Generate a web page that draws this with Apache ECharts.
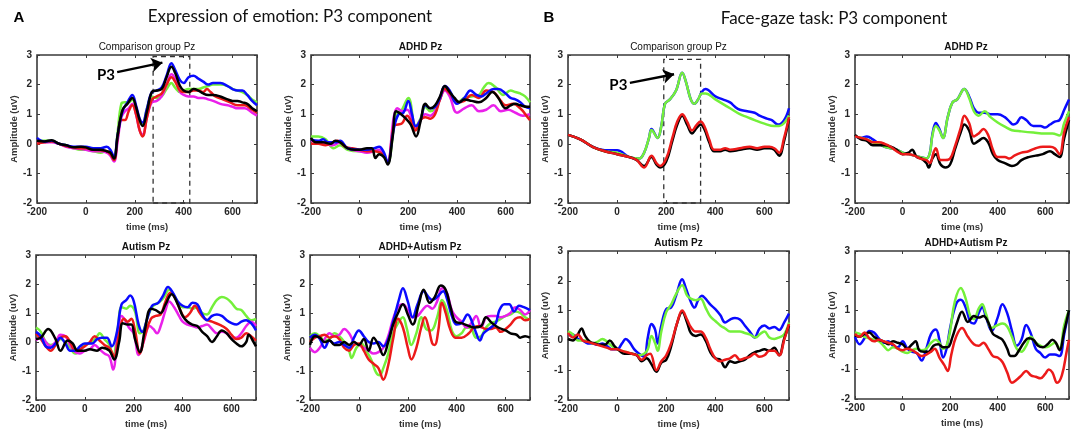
<!DOCTYPE html>
<html>
<head>
<meta charset="utf-8">
<script src="https://cdn.jsdelivr.net/npm/echarts@6/dist/echarts.min.js"></script>
<style>
  html, body { margin: 0; padding: 0; background: #fff; }
  #echarts { width: 1072px; height: 430px; }
</style>
</head>
<body>
<div id="echarts"></div>
<script>
// tick labels
var xTicks = [-200, 0, 200, 400, 600];
var yTicks = [-2, -1, 0, 1, 2, 3];

// ---- A: expression of emotion, comparison group
var aCompGreen = [[-200,0.1],[-170,0.1],[-140,0.1],[-110,0],[-80,-0.05],[-50,-0.15],[-20,-0.2],[0,-0.2],[30,-0.25],[60,-0.3],[85,-0.25],[100,-0.35],[115,-0.5],[130,0.4],[145,1.35],[160,1.4],[175,1.4],[190,1.5],[205,1.2],[220,0.75],[232,0.65],[250,1.2],[270,1.6],[290,1.55],[310,1.6],[330,1.85],[350,2.05],[365,1.9],[385,1.75],[400,1.8],[420,1.85],[440,1.85],[460,1.85],[480,1.9],[500,1.95],[520,2],[550,2],[580,1.95],[600,1.85],[620,1.8],[640,1.75],[660,1.65],[680,1.5],[700,1.4]];
var aCompMagenta = [[-200,0.05],[-170,0.05],[-140,0.05],[-110,0],[-80,-0.1],[-50,-0.15],[-20,-0.18],[0,-0.2],[30,-0.25],[60,-0.25],[85,-0.3],[100,-0.4],[115,-0.6],[130,0.1],[145,0.9],[160,1.1],[175,1.2],[190,1.35],[205,1],[220,0.45],[232,0.3],[250,0.9],[270,1.4],[290,1.45],[310,1.6],[330,2],[350,2.35],[365,2.2],[385,1.75],[400,1.65],[420,1.6],[440,1.6],[460,1.55],[480,1.55],[500,1.5],[520,1.45],[550,1.35],[580,1.3],[600,1.25],[620,1.2],[650,1.2],[680,1.05],[700,0.95]];
var aCompRed = [[-200,0],[-170,0.05],[-140,0.08],[-110,0],[-80,-0.08],[-50,-0.12],[-20,-0.15],[0,-0.15],[30,-0.2],[60,-0.22],[85,-0.25],[100,-0.35],[115,-0.55],[130,0.2],[145,0.8],[160,0.8],[175,1.1],[190,1.3],[205,1],[220,0.45],[232,0.25],[250,0.9],[270,1.5],[290,1.6],[310,1.7],[330,2],[350,2.25],[365,2.1],[385,1.8],[400,1.75],[420,1.75],[440,1.8],[460,1.8],[480,1.75],[495,1.85],[510,1.75],[530,1.6],[560,1.5],[590,1.4],[620,1.3],[650,1.3],[680,1.15],[700,1.05]];
var aCompBlue = [[-200,0.2],[-170,0.08],[-140,0.1],[-110,0],[-80,-0.05],[-50,-0.1],[-20,-0.1],[0,-0.1],[30,-0.15],[60,-0.15],[85,-0.1],[100,-0.2],[115,-0.45],[130,0.3],[150,1.1],[170,1.4],[190,1.65],[205,1.3],[220,0.85],[232,0.72],[250,1.2],[270,1.75],[290,1.8],[310,1.9],[330,2.3],[350,2.72],[365,2.5],[385,2.15],[400,2.05],[420,2.25],[440,2.3],[460,2.2],[480,2.1],[500,2],[520,2.05],[550,2.05],[580,1.95],[600,1.85],[620,1.8],[640,1.8],[660,1.65],[680,1.45],[700,1.3]];
var aCompBlack = [[-200,0.1],[-170,0.08],[-140,0.12],[-110,0],[-80,-0.05],[-50,-0.12],[-20,-0.1],[0,-0.12],[30,-0.2],[60,-0.2],[85,-0.25],[100,-0.3],[115,-0.5],[130,0.3],[150,1.15],[170,1.35],[190,1.55],[205,1.25],[220,0.8],[232,0.6],[250,1.1],[270,1.75],[290,1.8],[310,1.85],[330,2.25],[350,2.6],[365,2.4],[385,1.95],[400,1.8],[420,1.75],[440,1.85],[460,1.8],[480,1.7],[500,1.65],[520,1.65],[550,1.6],[580,1.5],[600,1.45],[620,1.45],[640,1.4],[660,1.35],[680,1.2],[700,1.1]];

// ---- A: ADHD
var aAdhdGreen = [[-200,0.25],[-170,0.25],[-140,0.15],[-107,-0.15],[-80,-0.05],[-50,-0.2],[0,-0.25],[50,-0.2],[80,-0.3],[100,-0.4],[115,-0.65],[150,1],[170,1.1],[200,1.55],[230,0.6],[250,0.85],[270,1.25],[290,1.1],[310,1.2],[330,1.5],[350,1.9],[375,1.7],[400,1.4],[430,1.55],[460,1.6],[490,1.65],[510,1.9],[530,2.05],[560,1.9],[590,1.65],[620,1.8],[640,1.75],[660,1.7],[680,1.6],[700,1.4]];
var aAdhdMagenta = [[-200,0.1],[-170,0.05],[-140,0],[-110,-0.05],[-80,0.05],[-50,-0.15],[0,-0.25],[30,-0.3],[60,-0.25],[80,-0.2],[100,-0.4],[115,-0.6],[140,0.9],[155,1.2],[175,1.1],[195,1.15],[215,0.85],[230,0.55],[250,0.8],[270,1],[290,0.95],[310,1.1],[330,1.5],[350,1.8],[370,1.6],[400,1.05],[430,1.2],[460,1.3],[490,1.1],[520,1.15],[550,1.3],[580,1.1],[610,1.15],[640,1.05],[670,0.95],[700,1]];
var aAdhdRed = [[-200,0],[-170,0],[-140,-0.05],[-110,0.05],[-90,0.1],[-60,-0.1],[-30,-0.15],[0,-0.2],[30,-0.25],[60,-0.25],[85,-0.3],[100,-0.4],[115,-0.65],[140,0.6],[155,0.65],[175,0.7],[195,0.95],[215,0.7],[230,0.45],[250,0.8],[270,0.9],[290,0.85],[310,1],[330,1.5],[350,1.85],[370,1.7],[400,1.4],[430,1.45],[460,1.65],[490,1.55],[520,1.8],[550,1.75],[580,1.45],[600,1.3],[630,1.35],[660,1.2],[690,0.9],[700,0.8]];
var aAdhdBlue = [[-200,0.15],[-170,0.1],[-150,0.15],[-130,0.05],[-100,0.05],[-80,0.1],[-50,-0.15],[0,-0.2],[30,-0.2],[60,-0.15],[80,-0.1],[100,-0.3],[115,-0.65],[140,0.5],[160,1],[180,1.05],[200,1.45],[215,1],[230,0.6],[250,0.8],[270,1.3],[290,1.2],[310,1.25],[330,1.55],[350,1.95],[370,1.8],[400,1.35],[430,1.55],[455,1.8],[480,1.65],[500,1.6],[520,1.7],[550,1.85],[570,1.85],[600,1.7],[620,1.55],[640,1.5],[660,1.4],[680,1.25],[700,1.2]];
var aAdhdBlack = [[-200,0.2],[-180,0.05],[-150,0.05],[-120,0],[-100,0.1],[-80,0.05],[-50,-0.15],[-20,-0.2],[0,-0.2],[30,-0.15],[50,-0.15],[65,-0.48],[80,-0.35],[100,-0.45],[115,-0.7],[135,0.2],[150,1.1],[170,1],[190,0.85],[210,0.65],[232,0.25],[250,0.75],[270,1.35],[290,1.2],[310,1.3],[330,1.6],[350,1.95],[370,1.75],[390,1.55],[410,1.4],[430,1.5],[460,1.45],[490,1.4],[520,1.55],[545,1.75],[570,1.55],[600,1.2],[620,1.3],[640,1.35],[660,1.3],[690,1.25],[700,1.25]];

// ---- A: Autism
var aAutGreen = [[-200,0.5],[-180,0.35],[-160,0],[-140,-0.1],[-120,-0.05],[-100,0.1],[-80,0],[-60,-0.2],[-40,-0.4],[-20,-0.3],[0,-0.1],[30,0],[50,0.2],[60,0.3],[80,0.1],[100,-0.1],[115,-0.5],[135,0.5],[150,1.2],[170,1.15],[185,1.25],[205,1.05],[225,0.3],[240,0.4],[260,0.95],[280,1.25],[300,1.35],[320,1.5],[345,1.8],[365,1.6],[385,1.3],[400,1.2],[420,1.2],[440,1.15],[460,1.2],[480,1],[500,0.95],[520,1.2],[540,1.45],[560,1.55],[580,1.5],[600,1.35],[620,1.15],[640,1.1],[660,0.9],[680,0.75],[700,0.8]];
var aAutMagenta = [[-200,0.05],[-180,0.2],[-160,0],[-140,-0.15],[-120,0],[-100,0.25],[-80,0.2],[-60,-0.1],[-40,-0.35],[-20,-0.4],[0,-0.3],[20,-0.25],[40,-0.1],[60,-0.25],[80,-0.4],[100,-0.5],[115,-0.95],[135,0.3],[150,0.9],[165,0.75],[180,0.5],[200,0.3],[220,-0.45],[240,0],[265,0.55],[280,0.45],[295,0.3],[310,0.55],[330,1.1],[345,1.4],[365,1.2],[385,0.9],[400,0.7],[420,0.6],[440,0.55],[460,0.5],[480,0.55],[500,0.6],[520,0.45],[540,0.3],[560,0.35],[580,0.3],[600,0.15],[620,0.15],[640,0.3],[660,0.55],[680,0.7],[700,0.55]];
var aAutRed = [[-200,0.3],[-180,0.1],[-160,-0.15],[-140,-0.3],[-120,-0.1],[-100,0.15],[-80,0.2],[-60,0],[-40,-0.3],[-20,-0.25],[0,-0.15],[20,0],[40,0.2],[60,0.05],[80,-0.1],[100,-0.2],[120,-0.5],[140,0.3],[160,0.8],[175,0.7],[190,0.8],[205,0.4],[225,-0.4],[245,0.2],[270,0.8],[290,0.9],[310,0.95],[330,1.4],[350,1.7],[370,1.5],[390,1.1],[410,0.85],[430,1],[450,1.25],[470,1],[490,0.8],[520,0.7],[550,0.6],[580,0.45],[600,0.25],[620,0.1],[640,0.15],[660,0.3],[680,0.2],[700,0.05]];
var aAutBlue = [[-200,0.35],[-180,0.2],[-160,-0.15],[-140,-0.2],[-120,-0.05],[-100,0.15],[-80,-0.05],[-60,-0.3],[-40,-0.3],[-20,-0.15],[0,-0.05],[30,-0.05],[50,0.1],[70,0.15],[90,0.15],[110,-0.15],[130,0.3],[150,1.3],[170,1.45],[185,1.6],[200,1.4],[220,0.6],[235,0.35],[255,0.8],[275,1.25],[300,1.35],[320,1.6],[340,1.9],[360,1.7],[380,1.4],[400,1.25],[420,1.2],[440,1.35],[460,1.3],[480,0.95],[500,0.75],[520,0.9],[540,0.95],[560,0.9],[580,0.75],[600,0.65],[620,0.6],[640,0.7],[660,0.75],[680,0.65],[700,0.4]];
var aAutBlack = [[-200,0.1],[-180,0.15],[-150,0.45],[-120,0.1],[-100,-0.3],[-70,0.05],[-50,-0.05],[-30,-0.3],[0,-0.3],[20,-0.25],[50,-0.3],[70,-0.2],[100,-0.3],[120,-0.6],[140,0],[155,0.65],[175,0.6],[190,0.6],[205,0.1],[225,-0.35],[245,0.4],[270,1.15],[290,1.1],[310,1],[330,1.3],[355,1.65],[380,1.3],[400,0.9],[420,0.7],[440,0.6],[460,0.55],[480,0.35],[500,0.2],[520,0],[540,0.2],[560,0.4],[580,0.3],[600,0.1],[620,-0.05],[640,-0.15],[660,0],[670,0.25],[690,0],[700,-0.15]];

// ---- A: ADHD+Autism
var aBothGreen = [[-200,0.2],[-180,0.3],[-160,0.2],[-140,0.05],[-120,0.1],[-100,0.3],[-80,0.2],[-60,0],[-40,-0.3],[-30,-0.55],[-10,-0.2],[10,-0.05],[30,-0.3],[50,-0.6],[70,-1.05],[85,-1.15],[100,-0.9],[120,-0.4],[140,0.3],[160,0.65],[180,0.85],[195,0.5],[215,-0.1],[235,0.3],[255,0.85],[275,0.45],[295,0.4],[320,0.85],[340,1.45],[360,1.1],[380,0.4],[400,0.2],[420,0.3],[440,0.5],[460,0.45],[480,0.15],[500,0.2],[520,0.5],[540,0.65],[560,0.7],[580,0.8],[600,0.9],[620,0.95],[640,1.05],[660,1],[680,0.85],[700,0.75]];
var aBothMagenta = [[-200,-0.2],[-180,-0.35],[-160,-0.2],[-140,0.1],[-120,0.3],[-100,0.2],[-80,0.25],[-60,0.45],[-40,0.3],[-20,0],[0,-0.1],[20,-0.2],[40,-0.3],[60,-0.4],[80,-0.35],[100,-0.2],[120,0.2],[140,0.8],[160,1.2],[180,1.3],[200,1.1],[220,0.85],[240,0.9],[260,1.1],[280,1.25],[300,1.15],[320,1.4],[340,1.85],[360,1.7],[380,1.1],[400,0.85],[420,0.7],[440,0.5],[460,0.65],[480,0.9],[500,0.5],[520,0.85],[540,0.9],[560,0.9],[580,0.85],[600,0.9],[620,1],[640,1.2],[660,1.1],[680,0.95],[700,1.1]];
var aBothRed = [[-200,0],[-180,0.15],[-160,0.2],[-140,0.25],[-120,0.15],[-100,0.2],[-80,0.1],[-60,-0.2],[-40,-0.3],[-20,-0.1],[0,-0.05],[20,-0.3],[40,-0.6],[60,-0.75],[80,-0.9],[100,-1.3],[120,-0.8],[140,0.1],[160,0.8],[180,0.5],[200,-0.2],[215,-0.6],[235,-0.2],[255,0.5],[270,0.85],[285,0.5],[300,-0.05],[310,-0.1],[325,0.4],[340,1.35],[355,1],[375,0.4],[395,0.15],[420,0.15],[450,0.3],[470,0.5],[490,0.55],[520,0.45],[540,0.45],[560,0.5],[580,0.35],[600,0.45],[620,0.6],[640,0.8],[660,0.85],[680,0.75],[700,0.8]];
var aBothBlue = [[-200,0.15],[-180,0.25],[-160,0.1],[-140,-0.2],[-120,0.05],[-100,-0.05],[-80,0],[-60,-0.1],[-40,-0.2],[-20,0.15],[0,0.4],[20,0.2],[40,0],[60,-0.05],[80,0],[100,-0.15],[120,0.1],[140,0.7],[165,1.5],[180,1.85],[200,1.4],[220,0.85],[240,1.3],[265,1.75],[285,1.55],[300,1.45],[320,1.55],[345,1.75],[360,1.5],[380,0.9],[400,0.6],[420,0.65],[445,0.95],[465,0.65],[480,0.3],[495,0.05],[510,0.3],[540,0.5],[560,0.65],[575,1.1],[595,1.3],[615,1.3],[635,1.05],[655,1.25],[675,1.2],[700,1.1]];
var aBothBlack = [[-200,-0.1],[-180,0.2],[-160,0.15],[-140,0],[-120,0.05],[-100,-0.1],[-80,-0.1],[-60,0],[-40,-0.1],[-20,0],[0,-0.1],[20,0.1],[40,-0.3],[60,0.15],[80,-0.1],[100,-0.45],[120,0],[140,0.6],[160,1],[180,1.3],[200,0.95],[220,0.6],[245,1.3],[265,1.8],[290,1.35],[310,1.55],[335,1.95],[355,1.8],[375,1.2],[395,0.7],[420,0.65],[450,0.55],[475,0.5],[500,0.55],[520,0.85],[545,0.65],[570,0.5],[600,0.4],[620,0.3],[645,0.25],[660,0.15],[680,0.2],[700,0.15]];

// ---- B: face-gaze, comparison group
var bCompBlue = [[-200,0.3],[-150,0.15],[-100,-0.1],[-50,-0.22],[0,-0.22],[50,-0.45],[90,-0.5],[110,-0.3],[130,0.2],[140,0.5],[165,0.2],[180,0.6],[195,1.35],[215,1.5],[240,1.8],[265,2.4],[280,2.1],[300,1.5],[315,1.35],[330,1.5],[345,1.75],[360,1.85],[400,1.6],[430,1.5],[460,1.4],[480,1.25],[500,1.15],[530,1.1],[560,1.05],[580,0.95],[610,0.85],[630,0.8],[655,0.65],[680,0.8],[700,1.2]];
var bCompGreen = [[-200,0.3],[-150,0.15],[-100,-0.1],[-50,-0.25],[0,-0.3],[50,-0.45],[90,-0.5],[110,-0.3],[130,0.2],[140,0.47],[165,0.2],[180,0.6],[195,1.35],[215,1.5],[240,1.8],[265,2.4],[280,2.1],[300,1.5],[315,1.35],[330,1.5],[345,1.7],[360,1.7],[400,1.5],[430,1.35],[460,1.2],[500,1],[530,0.9],[560,0.8],[600,0.68],[640,0.6],[660,0.6],[680,0.7],[700,0.95]];
var bCompBlack = [[-200,0.3],[-150,0.15],[-100,-0.1],[-50,-0.25],[0,-0.35],[50,-0.45],[80,-0.55],[110,-0.75],[140,-0.45],[160,-0.7],[175,-0.8],[200,-0.6],[225,0.1],[245,0.65],[265,0.95],[285,0.65],[305,0.35],[325,0.55],[340,0.65],[355,0.5],[375,0.05],[395,-0.25],[420,-0.25],[440,-0.2],[460,-0.25],[500,-0.2],[540,-0.15],[570,-0.2],[600,-0.15],[620,-0.15],[640,-0.2],[660,-0.4],[680,0.1],[700,0.85]];
var bCompRed = [[-200,0.3],[-150,0.15],[-100,-0.1],[-50,-0.25],[0,-0.35],[50,-0.45],[80,-0.55],[110,-0.8],[140,-0.4],[160,-0.65],[175,-0.75],[200,-0.5],[225,0.2],[245,0.75],[265,1],[285,0.75],[305,0.45],[325,0.65],[340,0.75],[355,0.6],[375,0.15],[395,-0.2],[420,-0.2],[440,-0.15],[460,-0.2],[500,-0.15],[540,-0.1],[570,-0.15],[600,-0.1],[620,-0.1],[640,-0.15],[660,-0.3],[680,0.2],[700,0.9]];

// ---- B: ADHD
var bAdhdBlue = [[-200,0.25],[-175,0.2],[-150,0.25],[-125,0.15],[-100,0],[-75,-0.1],[-50,-0.15],[-25,-0.2],[0,-0.3],[25,-0.35],[50,-0.4],[75,-0.45],[100,-0.5],[115,-0.3],[125,0.3],[140,0.7],[155,0.5],[170,0.2],[190,0.9],[210,1.4],[230,1.5],[260,1.85],[280,1.6],[300,1.2],[320,1.05],[345,1.05],[370,1],[400,1],[430,0.9],[450,0.75],[465,0.65],[480,0.7],[500,0.9],[520,0.8],[550,0.6],[580,0.6],[600,0.55],[620,0.65],[640,0.75],[660,0.8],[680,1.15],[700,1.5]];
var bAdhdGreen = [[-200,0.25],[-175,0.2],[-150,0.15],[-125,0.05],[-100,0],[-75,-0.1],[-50,-0.15],[-25,-0.2],[0,-0.3],[25,-0.35],[50,-0.4],[75,-0.45],[100,-0.5],[115,-0.3],[125,0.25],[140,0.6],[155,0.45],[170,0.2],[190,0.9],[210,1.4],[230,1.5],[260,1.85],[280,1.55],[300,1.1],[320,0.95],[345,1.1],[370,0.9],[400,0.72],[430,0.58],[460,0.46],[500,0.42],[550,0.38],[600,0.35],[630,0.35],[660,0.28],[680,0.7],[700,1.1]];
var bAdhdBlack = [[-200,0.3],[-175,0.15],[-150,0.1],[-125,-0.05],[-100,-0.05],[-75,-0.05],[-50,-0.1],[-25,-0.2],[0,-0.35],[25,-0.3],[40,-0.2],[60,-0.45],[80,-0.5],[100,-0.65],[110,-0.8],[125,-0.5],[140,-0.35],[160,-0.7],[180,-0.8],[200,-0.7],[220,-0.2],[245,0.4],[260,0.65],[280,0.45],[300,0],[320,0.1],[340,0.2],[360,0.05],[380,-0.35],[400,-0.55],[430,-0.65],[460,-0.75],[480,-0.7],[500,-0.55],[530,-0.45],[560,-0.4],[590,-0.35],[620,-0.25],[640,-0.35],[660,-0.45],[680,0.2],[700,0.8]];
var bAdhdRed = [[-200,0.25],[-175,0.2],[-150,0.15],[-125,0.05],[-100,0.05],[-75,0],[-50,-0.1],[-25,-0.25],[0,-0.35],[25,-0.35],[50,-0.4],[75,-0.5],[100,-0.55],[115,-0.65],[130,-0.3],[140,-0.15],[160,-0.55],[180,-0.55],[200,-0.5],[220,-0.1],[245,0.55],[260,0.95],[280,0.7],[300,0.25],[320,0.35],[340,0.5],[360,0.3],[380,-0.2],[400,-0.45],[430,-0.45],[450,-0.5],[470,-0.4],[500,-0.3],[530,-0.25],[560,-0.15],[590,-0.1],[620,-0.1],[640,-0.15],[660,-0.35],[680,0.4],[700,0.9]];

// ---- B: Autism
var bAutBlue = [[-200,0.2],[-180,0.2],[-160,0.05],[-140,0],[-120,-0.1],[-100,-0.1],[-80,-0.15],[-60,-0.1],[-40,-0.2],[-20,-0.3],[0,-0.3],[20,-0.1],[35,0.05],[50,-0.05],[70,-0.3],[90,-0.45],[110,-0.55],[125,0.1],[140,0.55],[155,0.35],[165,-0.1],[180,0.5],[200,1.05],[220,1.1],[240,1.5],[265,2.05],[280,1.75],[300,1.3],[315,1.1],[330,1.35],[345,1.5],[360,1.4],[380,1.2],[400,1.05],[420,0.85],[440,0.6],[460,0.7],[480,0.75],[500,0.7],[520,0.5],[540,0.3],[560,0.1],[580,0.4],[600,0.5],[620,0.4],[640,0.45],[660,0.35],[680,0.6],[700,0.9]];
var bAutGreen = [[-200,0.3],[-180,0.2],[-160,0],[-140,0],[-120,0],[-100,-0.1],[-80,-0.05],[-60,0.05],[-40,-0.05],[-20,-0.2],[0,-0.3],[20,-0.35],[40,-0.4],[60,-0.45],[90,-0.5],[110,-0.45],[125,-0.3],[140,0.15],[155,-0.1],[165,-0.35],[180,0.3],[200,0.95],[220,1.2],[240,1.55],[265,1.85],[285,1.5],[300,1.4],[320,1.35],[340,1.4],[360,1.1],[380,0.8],[400,0.65],[420,0.5],[440,0.4],[460,0.3],[480,0.3],[500,0.3],[520,0.25],[540,0.2],[565,0.1],[580,0.2],[600,0.3],[620,0.1],[640,0.05],[660,0.1],[680,0.2],[700,0.6]];
var bAutBlack = [[-200,0.05],[-180,0],[-160,0.2],[-145,0.4],[-130,0.15],[-110,-0.05],[-90,-0.1],[-70,-0.15],[-50,-0.15],[-30,0],[-10,-0.2],[10,-0.35],[30,-0.45],[60,-0.45],[80,-0.5],[100,-0.7],[120,-0.6],[140,-0.8],[160,-1.05],[180,-0.75],[200,-0.65],[220,-0.2],[245,0.6],[265,0.95],[285,0.6],[300,0.25],[320,0.15],[340,0.2],[360,0],[380,-0.4],[400,-0.6],[420,-0.65],[440,-0.9],[460,-0.7],[480,-0.75],[500,-0.7],[520,-0.65],[540,-0.5],[560,-0.4],[580,-0.35],[600,-0.3],[620,-0.35],[640,-0.25],[660,-0.5],[680,0.05],[700,0.5]];
var bAutRed = [[-200,0.25],[-180,0.1],[-160,0.2],[-140,0],[-120,-0.05],[-100,-0.1],[-80,-0.15],[-60,-0.2],[-40,-0.25],[-20,-0.3],[0,-0.3],[20,-0.35],[40,-0.4],[60,-0.45],[80,-0.5],[100,-0.65],[120,-0.5],[135,-0.45],[160,-1],[180,-0.7],[200,-0.5],[220,-0.1],[245,0.6],[265,1],[285,0.7],[300,0.45],[320,0.3],[340,0.3],[360,0.1],[380,-0.3],[400,-0.6],[420,-0.7],[440,-0.65],[460,-0.6],[480,-0.5],[500,-0.65],[520,-0.6],[540,-0.55],[560,-0.45],[580,-0.55],[600,-0.5],[620,-0.35],[640,-0.35],[660,-0.5],[680,0],[700,0.55]];

// ---- B: ADHD+Autism
var bBothBlue = [[-200,0.1],[-180,-0.15],[-160,0.05],[-140,0.3],[-120,0.25],[-100,0.05],[-80,-0.1],[-60,-0.05],[-40,-0.2],[-20,-0.25],[0,-0.05],[20,-0.3],[40,-0.4],[60,-0.45],[80,-0.7],[100,-0.3],[120,0.2],[140,0.35],[155,0],[170,-0.6],[185,-0.3],[200,0.4],[225,1.2],[245,1.35],[265,1.1],[285,0.6],[300,0.55],[320,0.9],[335,1.1],[350,0.8],[375,0.3],[400,0.75],[420,1.2],[440,0.9],[460,0.3],[480,-0.2],[500,0],[520,0.5],[540,0.2],[560,-0.3],[580,-0.45],[600,-0.6],[620,-0.5],[640,-0.5],[660,-0.55],[680,0.2],[700,1]];
var bBothGreen = [[-200,0.25],[-180,0.2],[-160,0.1],[-140,0.05],[-120,0],[-100,-0.05],[-80,-0.2],[-60,-0.35],[-40,-0.25],[-20,-0.3],[0,-0.4],[20,-0.45],[40,-0.35],[60,-0.3],[80,-0.35],[100,-0.3],[120,-0.1],[140,0],[155,-0.1],[170,-0.3],[185,-0.2],[200,0.3],[220,1.3],[245,1.75],[265,1.4],[285,0.8],[300,0.7],[320,1.05],[335,1.2],[350,0.9],[375,0.4],[400,0.5],[420,0.55],[440,0.45],[460,0.1],[480,-0.3],[500,-0.4],[520,-0.2],[540,0.1],[560,-0.1],[580,-0.2],[600,-0.25],[620,-0.2],[640,-0.1],[660,-0.3],[680,0.5],[700,1]];
var bBothBlack = [[-200,0.15],[-180,0.1],[-160,0.2],[-140,0.25],[-120,0.1],[-100,0],[-80,-0.05],[-60,-0.15],[-40,-0.05],[-20,-0.1],[0,-0.15],[20,-0.3],[40,-0.15],[55,-0.05],[70,-0.35],[90,-0.4],[110,-0.4],[130,-0.2],[150,-0.15],[170,-0.25],[190,-0.25],[210,0.1],[230,0.6],[250,0.95],[275,0.6],[300,0.8],[320,0.75],[340,0.8],[360,0.6],[380,0.2],[400,0.1],[420,0],[440,-0.3],[455,-0.55],[470,-0.55],[490,-0.35],[510,-0.1],[530,0.05],[550,0],[570,-0.2],[590,-0.25],[610,-0.15],[630,0],[645,-0.1],[660,-0.35],[680,0.3],[700,1]];
var bBothRed = [[-200,0.2],[-180,0.1],[-160,0.25],[-140,0.05],[-120,-0.05],[-100,0],[-80,-0.05],[-60,-0.1],[-40,-0.15],[-20,-0.3],[0,-0.35],[20,-0.3],[40,-0.35],[60,-0.45],[80,-0.55],[100,-0.5],[120,-0.4],[135,-0.3],[155,-0.6],[175,-0.85],[190,-1.05],[205,-0.5],[225,0.1],[250,0.4],[275,0.1],[300,-0.15],[320,-0.2],[340,-0.1],[360,-0.3],[380,-0.55],[400,-0.6],[420,-0.75],[440,-1.1],[460,-1.45],[480,-1.35],[500,-1.2],[520,-1.05],[540,-1.2],[560,-1.25],[580,-1.3],[600,-1.15],[615,-1],[630,-1.1],[650,-1.45],[670,-1.2],[690,-0.4],[700,0]];

var colors = { blue: '#0a0aff', green: '#74f03a', red: '#ec1a1a', magenta: '#ea20ea', black: '#000000' };

var panels = [
    { title: 'Comparison group Pz', bold: false, box: [37, 55, 220, 148],
      lines: [['green', aCompGreen], ['magenta', aCompMagenta], ['red', aCompRed], ['blue', aCompBlue], ['black', aCompBlack]] },
    { title: 'ADHD Pz', bold: true, box: [311, 55, 219, 148],
      lines: [['green', aAdhdGreen], ['magenta', aAdhdMagenta], ['red', aAdhdRed], ['blue', aAdhdBlue], ['black', aAdhdBlack]] },
    { title: 'Autism Pz', bold: true, box: [36, 255, 220, 148],
      lines: [['green', aAutGreen], ['magenta', aAutMagenta], ['red', aAutRed], ['blue', aAutBlue], ['black', aAutBlack]] },
    { title: 'ADHD+Autism Pz', bold: true, box: [310, 255, 220, 148],
      lines: [['green', aBothGreen], ['magenta', aBothMagenta], ['red', aBothRed], ['blue', aBothBlue], ['black', aBothBlack]] },
    { title: 'Comparison group Pz', bold: false, box: [568, 55, 221, 148],
      lines: [['blue', bCompBlue], ['green', bCompGreen], ['black', bCompBlack], ['red', bCompRed]] },
    { title: 'ADHD Pz', bold: true, box: [855, 55, 222, 148],
      lines: [['blue', bAdhdBlue], ['green', bAdhdGreen], ['black', bAdhdBlack], ['red', bAdhdRed]] },
    { title: 'Autism Pz', bold: true, box: [568, 251, 221, 149],
      lines: [['blue', bAutBlue], ['green', bAutGreen], ['black', bAutBlack], ['red', bAutRed]] },
    { title: 'ADHD+Autism Pz', bold: true, box: [855, 251, 222, 148],
      lines: [['blue', bBothBlue], ['green', bBothGreen], ['black', bBothBlack], ['red', bBothRed]] }
];

// P3 window + arrow annotations (data coords) for the two comparison panels
var p3Notes = {
    0: { win: [275, 425, 2.95], arrow: [[128, 2.42], [313, 2.74]], label: [82, 2.32] },
    4: { win: [190, 340, 2.85], arrow: [[52, 2.06], [232, 2.35]], label: [5, 1.99] }
};

window.onload = function () {
    var labelFont = 'Liberation Sans, Arial, sans-serif';
    var grids = [], xAxes = [], yAxes = [], series = [], graphics = [];

    panels.forEach(function (p, i) {
        grids.push({ left: p.box[0], top: p.box[1], width: p.box[2], height: p.box[3],
            show: true, borderColor: '#3a3a3a', borderWidth: 1.6, backgroundColor: '#fff' });

        var tick = { show: true, inside: true, length: 3, lineStyle: { color: '#3a3a3a', width: 1 } };
        var noLine = { show: false, onZero: false };
        xAxes.push({ gridIndex: i, type: 'value', position: 'bottom', min: -200, max: 700, interval: 200,
            axisLine: noLine, splitLine: { show: false }, axisTick: tick,
            axisLabel: { fontSize: 10, fontWeight: 'bold', color: '#262626', fontFamily: labelFont, margin: 4,
                formatter: function (v) { return xTicks.indexOf(v) >= 0 ? String(v) : ''; } },
            name: 'time (ms)', nameLocation: 'middle', nameGap: 19,
            nameTextStyle: { fontSize: 9.5, fontWeight: 'bold', color: '#333', fontFamily: labelFont } });
        xAxes.push({ gridIndex: i, type: 'value', position: 'top', min: -200, max: 700, interval: 200,
            axisLine: noLine, splitLine: { show: false }, axisTick: tick, axisLabel: { show: false } });
        yAxes.push({ gridIndex: i, type: 'value', position: 'left', min: -2, max: 3, interval: 1,
            axisLine: noLine, splitLine: { show: false }, axisTick: tick,
            axisLabel: { fontSize: 10, fontWeight: 'bold', color: '#262626', fontFamily: labelFont, margin: 5,
                formatter: function (v) { return yTicks.indexOf(v) >= 0 ? String(v) : ''; } },
            name: 'Amplitude (uV)', nameLocation: 'middle', nameGap: 18,
            nameTextStyle: { fontSize: 9.5, fontWeight: 'bold', color: '#333', fontFamily: labelFont } });
        yAxes.push({ gridIndex: i, type: 'value', position: 'right', min: -2, max: 3, interval: 1,
            axisLine: noLine, splitLine: { show: false }, axisTick: tick, axisLabel: { show: false } });

        p.lines.forEach(function (ln, k) {
            var s = {
                type: 'line', xAxisIndex: i * 2, yAxisIndex: i * 2, data: ln[1],
                smooth: 0.4, showSymbol: false, symbol: 'none',
                lineStyle: { color: colors[ln[0]], width: 2.5 },
                z: 2 + k
            };
            var note = p3Notes[i];
            if (note && k === 0) {
                s.markArea = { silent: true,
                    itemStyle: { color: 'rgba(0,0,0,0)', borderColor: '#333', borderWidth: 1.3, borderType: [5, 4] },
                    data: [[{ coord: [note.win[0], -2] }, { coord: [note.win[1], note.win[2]] }]] };
                s.markLine = { silent: true, symbol: ['none', 'arrow'], symbolSize: 11,
                    lineStyle: { color: '#000', width: 2.4, type: 'solid' }, label: { show: false },
                    data: [[{ coord: note.arrow[0] }, { coord: note.arrow[1] }]] };
                s.markPoint = { silent: true, symbol: 'circle', symbolSize: 1,
                    itemStyle: { color: 'rgba(0,0,0,0)' },
                    label: { show: true, position: 'inside', formatter: 'P3', color: '#000',
                        fontSize: 15, fontWeight: 'bold', fontFamily: 'Lato, Open Sans, sans-serif' },
                    data: [{ coord: note.label }] };
            }
            series.push(s);
        });

        graphics.push({ type: 'text', x: p.box[0] + p.box[2] / 2, y: p.box[1] - 8,
            style: { text: p.title, fill: '#111', textAlign: 'center', textVerticalAlign: 'middle',
                font: (p.bold ? 'bold ' : '') + '10px ' + labelFont } });
    });

    // figure headers
    graphics.push({ type: 'text', x: 19, y: 18, style: { text: 'A', fill: '#000', textAlign: 'center', textVerticalAlign: 'middle', font: 'bold 15px Liberation Sans, Arial, sans-serif' } });
    graphics.push({ type: 'text', x: 290, y: 17, style: { text: 'Expression of emotion: P3 component', fill: '#111', textAlign: 'center', textVerticalAlign: 'middle', font: '17px Lato, Open Sans, sans-serif' } });
    graphics.push({ type: 'text', x: 549, y: 18, style: { text: 'B', fill: '#000', textAlign: 'center', textVerticalAlign: 'middle', font: 'bold 15px Liberation Sans, Arial, sans-serif' } });
    graphics.push({ type: 'text', x: 834, y: 19, style: { text: 'Face-gaze task: P3 component', fill: '#111', textAlign: 'center', textVerticalAlign: 'middle', font: '17px Lato, Open Sans, sans-serif' } });

    var option = {
        animation: false,
        backgroundColor: '#fff',
        grid: grids,
        xAxis: xAxes,
        yAxis: yAxes,
        series: series,
        graphic: graphics
    };

    var mychart = echarts.init(document.getElementById('echarts'));
    mychart.setOption(option);
};
</script>
</body>
</html>
